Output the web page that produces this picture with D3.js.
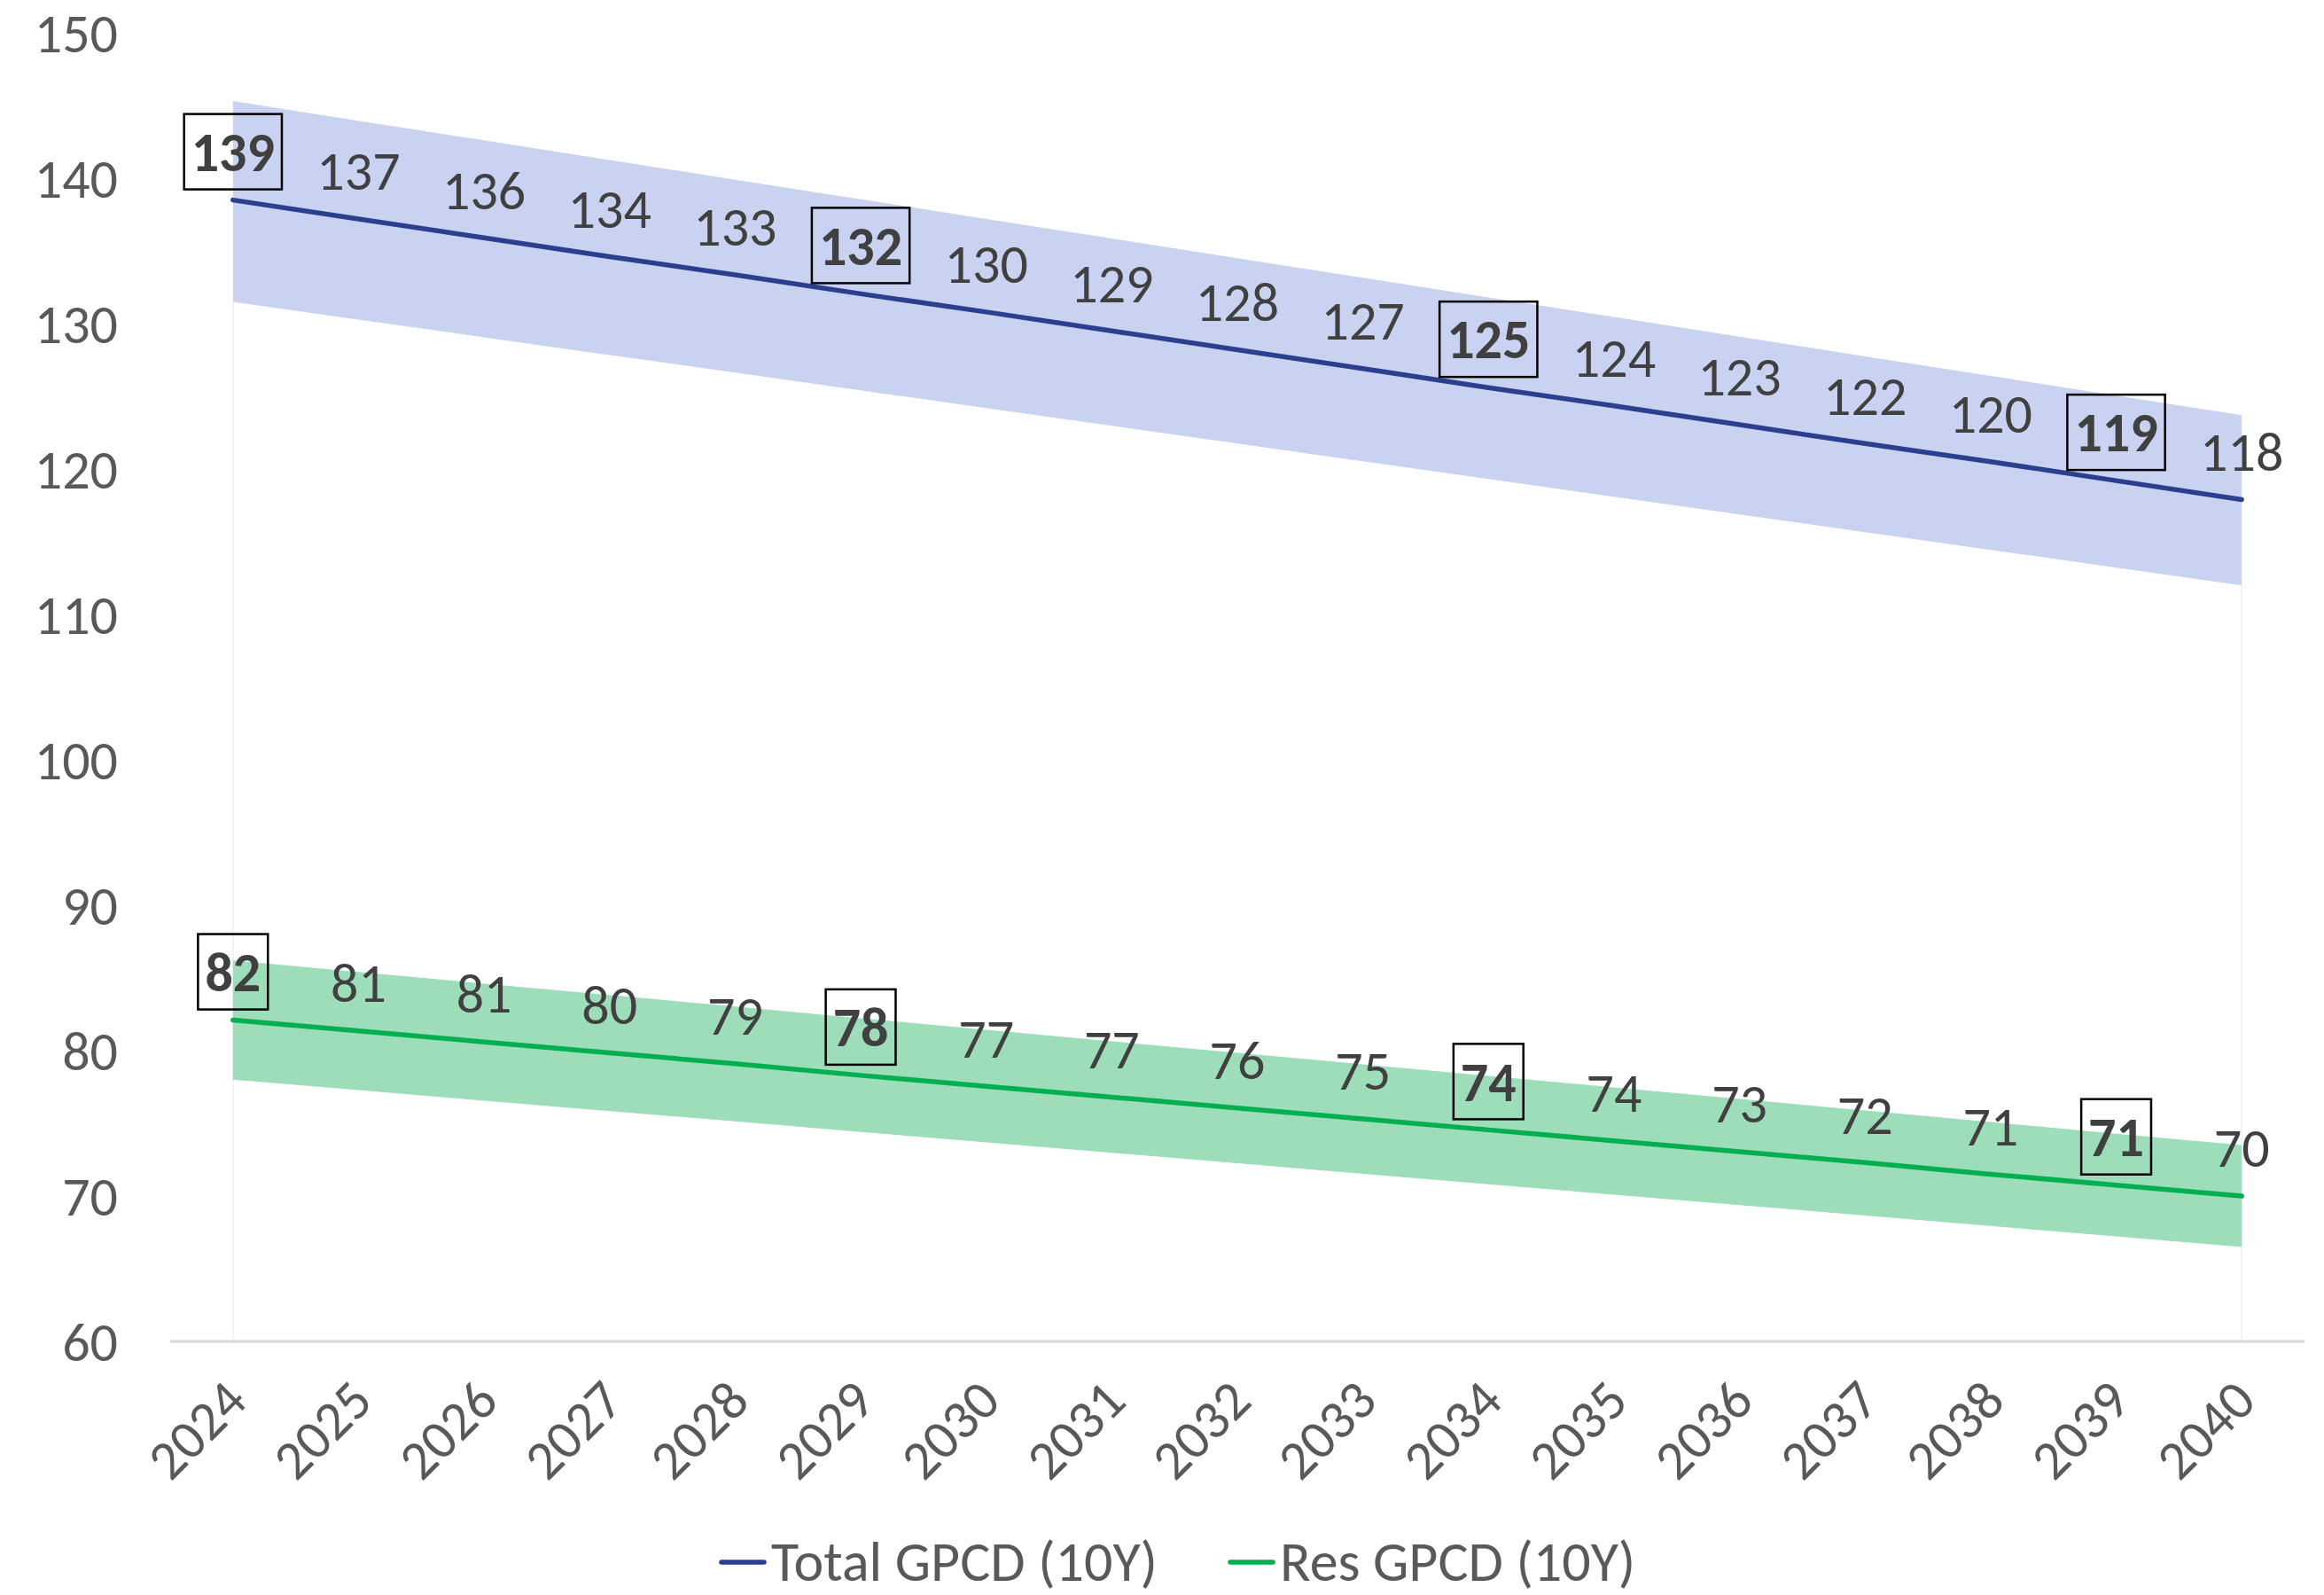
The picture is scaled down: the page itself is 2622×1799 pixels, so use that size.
<!DOCTYPE html>
<html>
<head>
<meta charset="utf-8">
<script src="https://cdn.jsdelivr.net/npm/d3@7"></script>
<style>
  html, body { margin: 0; padding: 0; background: #ffffff; }
  svg { display: block; }
  text { font-family: "Carlito", "Lato", "Open Sans", sans-serif; }
</style>
</head>
<body>
<svg id="chart" width="2622" height="1799"></svg>
<script>
// ---- Data ----
const years = ["2024","2025","2026","2027","2028","2029","2030","2031","2032","2033","2034","2035","2036","2037","2038","2039","2040"];
const totalGPCD = [138.5,137.2,135.9,134.6,133.35,132.05,130.8,129.5,128.2,126.9,125.6,124.35,123.05,121.75,120.5,119.2,117.9];
const totalLabels = [139,137,136,134,133,132,130,129,128,127,125,124,123,122,120,119,118];
const totalUpper = [145.3,143.95,142.6,141.25,139.9,138.55,137.2,135.85,134.5,133.15,131.8,130.45,129.1,127.75,126.4,125.05,123.7];
const totalLower = [131.5,130.28,129.06,127.84,126.63,125.41,124.19,122.97,121.75,120.53,119.31,118.09,116.88,115.66,114.44,113.22,112.0];
const resGPCD = [82.1,81.35,80.6,79.85,79.1,78.3,77.55,76.8,76.05,75.3,74.55,73.8,73.05,72.3,71.5,70.75,70.0];
const resLabels = [82,81,81,80,79,78,77,77,76,75,74,74,73,72,71,71,70];
const resUpper = [86.2,85.41,84.61,83.82,83.03,82.23,81.44,80.64,79.85,79.06,78.26,77.47,76.68,75.88,75.09,74.29,73.5];
const resLower = [78.0,77.28,76.56,75.84,75.13,74.41,73.69,72.97,72.25,71.53,70.81,70.09,69.38,68.66,67.94,67.22,66.5];
const highlightYears = ["2024","2029","2034","2039"];
const yTicks = [60,70,80,90,100,110,120,130,140,150];
const seriesNames = ["Total GPCD (10Y)", "Res GPCD (10Y)"];

// ---- Layout ----
const svg = d3.select("#chart");
const plotLeft = 192, plotRight = 2600, plotTop = 37, plotBottom = 1513;
const fontSize = 62;
const FONT = "Carlito, Lato, 'Open Sans', sans-serif";

const x = d3.scalePoint().domain(years).range([plotLeft, plotRight]).padding(0.5);
const y = d3.scaleLinear().domain([60, 150]).range([plotBottom, plotTop]);

const colors = {
  totalLine: "#2B3F8E", totalBand: "#C9D3F1",
  resLine: "#00B050", resBand: "#9DDDBA"
};

// faint edges of the stacked areas
svg.append("g").selectAll("line")
  .data([years[0], years[years.length-1]])
  .join("line")
  .attr("x1", d => x(d)).attr("x2", d => x(d))
  .attr("y1", plotBottom)
  .attr("y2", d => y(totalLower[years.indexOf(d)]))
  .attr("stroke", "#F2F2F2").attr("stroke-width", 2);

// bands
const band = (up, lo) => d3.area()
  .x((d, i) => x(years[i]))
  .y0((d, i) => y(lo[i]))
  .y1((d, i) => y(up[i]));

svg.append("path").datum(totalUpper)
  .attr("d", band(totalUpper, totalLower))
  .attr("fill", colors.totalBand);
svg.append("path").datum(resUpper)
  .attr("d", band(resUpper, resLower))
  .attr("fill", colors.resBand);

// baseline (category axis)
svg.append("line")
  .attr("x1", plotLeft).attr("x2", plotRight)
  .attr("y1", plotBottom).attr("y2", plotBottom)
  .attr("stroke", "#D9D9D9").attr("stroke-width", 3);

// y axis
const yAxis = d3.axisLeft(y).tickValues(yTicks).tickSize(0).tickPadding(0);
const yg = svg.append("g").attr("transform", `translate(${133},0)`).call(yAxis);
yg.select(".domain").remove();
yg.selectAll("text")
  .attr("font-size", fontSize)
  .attr("fill", "#595959")
  .attr("font-family", FONT)
  .attr("dy", "0.35em");

// x axis
const xAxis = d3.axisBottom(x).tickSize(0).tickPadding(0);
const xg = svg.append("g").attr("transform", `translate(0,${plotBottom})`).call(xAxis);
xg.select(".domain").remove();
xg.selectAll("text")
  .attr("font-size", fontSize)
  .attr("fill", "#595959")
  .attr("font-family", FONT)
  .attr("text-anchor", "end")
  .attr("dy", 0)
  .attr("y", 0)
  .attr("transform", "translate(18,70) rotate(-45)");

// lines
const lineGen = d3.line().x((d, i) => x(years[i])).y(d => y(d));
svg.append("path").datum(totalGPCD)
  .attr("d", lineGen).attr("fill", "none")
  .attr("stroke", colors.totalLine).attr("stroke-width", 5.5).attr("stroke-linecap", "round");
svg.append("path").datum(resGPCD)
  .attr("d", lineGen).attr("fill", "none")
  .attr("stroke", colors.resLine).attr("stroke-width", 5.5).attr("stroke-linecap", "round");

// data labels
function drawLabels(values, labels) {
  const g = svg.append("g");
  values.forEach((v, i) => {
    const yr = years[i];
    const hl = highlightYears.includes(yr);
    const cx = x(yr);
    const cy = y(v) - 55;
    const t = g.append("text")
      .attr("x", cx).attr("y", cy)
      .attr("dy", "0.36em")
      .attr("text-anchor", "middle")
      .attr("font-size", fontSize)
      .attr("font-weight", hl ? "bold" : "normal")
      .attr("fill", "#404040")
      .text(labels[i]);
    if (hl) {
      const w = t.node().getComputedTextLength();
      g.insert("rect", "text")
        .attr("x", cx - w / 2 - 8).attr("y", cy - 42)
        .attr("width", w + 16).attr("height", 85)
        .attr("fill", "none").attr("stroke", "#000000").attr("stroke-width", 2.5);
    }
  });
}
drawLabels(totalGPCD, totalLabels);
drawLabels(resGPCD, resLabels);

// legend
const legend = svg.append("g");
const legendItems = [
  { name: seriesNames[0], color: colors.totalLine, x: 814 },
  { name: seriesNames[1], color: colors.resLine, x: 1388 }
];
legendItems.forEach(it => {
  legend.append("line")
    .attr("x1", it.x).attr("x2", it.x + 48)
    .attr("y1", 1762).attr("y2", 1762)
    .attr("stroke", it.color).attr("stroke-width", 5.5).attr("stroke-linecap", "round");
  legend.append("text")
    .attr("x", it.x + 56).attr("y", 1760).attr("dy", "0.36em")
    .attr("font-size", 64).attr("fill", "#595959")
    .text(it.name);
});
</script>
</body>
</html>
